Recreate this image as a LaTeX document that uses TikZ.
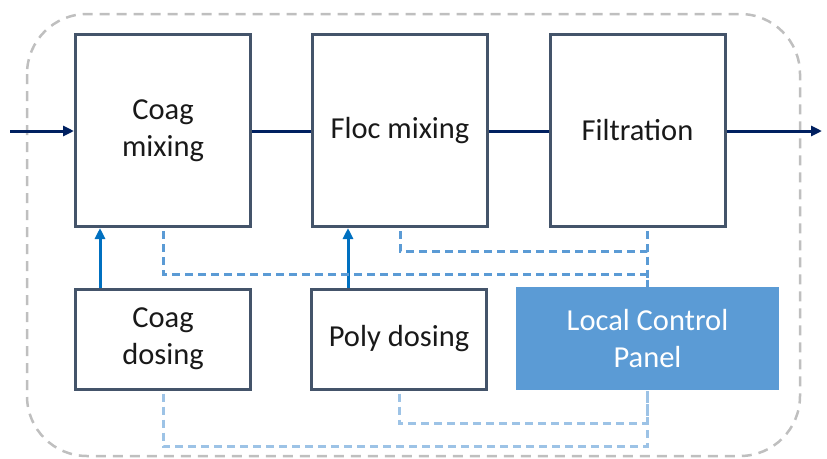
\documentclass[tikz,border=0pt]{standalone}
\usepackage{fontspec}
\setmainfont{Carlito}
\usetikzlibrary{arrows.meta}
\definecolor{boxline}{RGB}{68,84,106}
\definecolor{flow}{RGB}{0,32,96}
\definecolor{dosearrow}{RGB}{0,112,192}
\definecolor{ctrlA}{RGB}{91,155,213}
\definecolor{ctrlB}{RGB}{157,195,230}
\definecolor{outline}{RGB}{191,191,191}
\tikzset{
  procbox/.style={draw=boxline, line width=3pt, fill=white, minimum width=175pt, align=center,
    font=\fontsize{30.5}{37}\selectfont, text=black!90, inner sep=0pt},
  flowline/.style={draw=flow, line width=3pt},
  flowarrow/.style={flowline, -{Triangle[length=11pt,width=10pt]}},
  dosearr/.style={draw=dosearrow, line width=3pt, -{Triangle[length=11pt,width=10pt]}},
  sigA/.style={draw=ctrlA, line width=3pt, dash pattern=on 8pt off 5pt},
  sigB/.style={draw=ctrlB, line width=3pt, dash pattern=on 8pt off 5pt},
}
\begin{document}
\begin{tikzpicture}[x=1pt,y=-1pt]
\useasboundingbox (0,0) rectangle (827,458);
\draw[outline, line width=2.5pt, dash pattern=on 10pt off 7pt, rounded corners=60pt] (27,14) rectangle (800,456);
\node[procbox, minimum height=192pt] (cm) at (163,130.5) {Coag\\mixing};
\node[procbox, minimum height=192pt] (fm) at (400,130.5) {Floc mixing};
\node[procbox, minimum height=192pt] (fi) at (637.5,130.5) {Filtration};
\node[procbox, minimum height=100pt] (cd) at (163,339) {Coag\\dosing};
\node[procbox, minimum height=100pt] (pd) at (399,339) {Poly dosing};
\node[fill=ctrlA, minimum width=263pt, minimum height=103pt, align=center, inner sep=0pt,
  font=\fontsize{30.5}{37}\selectfont, text=white] (lcp) at (647.5,338.5) {Local Control\\Panel};
\coordinate (in) at (10,131);
\coordinate (out) at (822,131);
\draw[flowarrow] (in) -- (cm.west |- in);
\draw[flowline] (cm.east |- in) -- (fm.west |- in);
\draw[flowline] (fm.east |- in) -- (fi.west |- in);
\draw[flowarrow] (fi.east |- out) -- (out);
\draw[dosearr] ([xshift=26pt]cd.north west) -- ([xshift=26pt]cm.south west);
\draw[dosearr] ([xshift=38pt]pd.north west) -- ([xshift=37pt]fm.south west);
\draw[sigA] ([yshift=-3pt]cm.south) -- ++(0,43) -| (lcp.north);
\draw[sigA] ([yshift=-3pt]fm.south) -- ++(0,20) -| (lcp.north);
\draw[sigA] ([yshift=-3pt]fi.south -| lcp.north) -- (lcp.north);
\draw[sigB] ([yshift=-3pt]cd.south) -- ++(0,53) -| (lcp.south);
\draw[sigB] ([yshift=-3pt]pd.south) -- ++(0,30) -| (lcp.south);
\end{tikzpicture}
\end{document}
